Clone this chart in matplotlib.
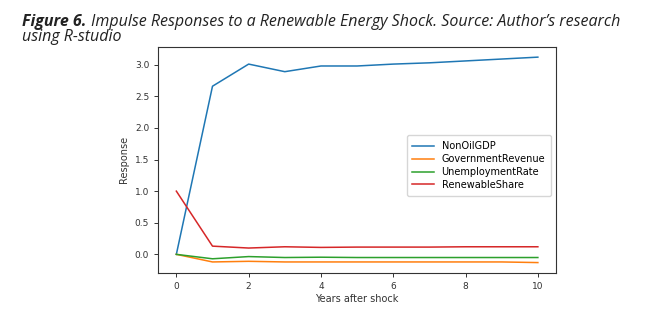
import matplotlib
matplotlib.use("Agg")
import matplotlib.pyplot as plt

years = [0, 1, 2, 3, 4, 5, 6, 7, 8, 9, 10]
non_oil_gdp = [0.0, 2.66, 3.01, 2.89, 2.98, 2.98, 3.01, 3.03, 3.06, 3.09, 3.12]
gov_revenue = [0.0, -0.12, -0.11, -0.12, -0.12, -0.12, -0.12, -0.12, -0.12, -0.12, -0.13]
unemployment = [0.0, -0.07, -0.035, -0.05, -0.045, -0.05, -0.05, -0.05, -0.05, -0.05, -0.05]
renewable_share = [1.0, 0.13, 0.10, 0.12, 0.11, 0.115, 0.115, 0.115, 0.12, 0.12, 0.12]

series = [
    ("NonOilGDP", non_oil_gdp, "#1f77b4"),
    ("GovernmentRevenue", gov_revenue, "#ff7f0e"),
    ("UnemploymentRate", unemployment, "#2ca02c"),
    ("RenewableShare", renewable_share, "#d62728"),
]

fig = plt.figure(figsize=(6.65, 3.21), dpi=100)
ax = fig.add_axes([0.238, 0.150, 0.598, 0.704])

for name, vals, col in series:
    ax.plot(years, vals, color=col, lw=1.1, label=name)

ax.set_xticks([0, 2, 4, 6, 8, 10])
ax.set_yticks([0.0, 0.5, 1.0, 1.5, 2.0, 2.5, 3.0])
ax.tick_params(labelsize=6.5, length=3, width=0.7, colors="#333333")
for s in ax.spines.values():
    s.set_linewidth(0.8)
    s.set_color("#333333")
ax.set_xlabel("Years after shock", fontsize=7, color="#333333", labelpad=2)
ax.set_ylabel("Response", fontsize=7, color="#333333", labelpad=4)
ax.legend(loc="center right", fontsize=7, handlelength=2.2, borderpad=0.6,
          labelspacing=0.3, bbox_to_anchor=(1.0, 0.475))

# caption
fam = ["Open Sans", "DejaVu Sans"]
fs = 11.5
t1 = fig.text(22 / 665, 1 - 26 / 321, "Figure 6.", fontsize=fs, style="italic",
              weight="bold", family=fam, color="#222222")
fig.canvas.draw()
bb = t1.get_window_extent(fig.canvas.get_renderer())
fig.text(bb.x1 / 665 + 0.007, 1 - 26 / 321,
         "Impulse Responses to a Renewable Energy Shock. Source: Author\u2019s research",
         fontsize=fs, style="italic", family=fam, color="#222222")
fig.text(22 / 665, 1 - 41 / 321, "using R-studio", fontsize=fs, style="italic",
         family=fam, color="#222222")

fig.savefig("out.png", dpi=100)
